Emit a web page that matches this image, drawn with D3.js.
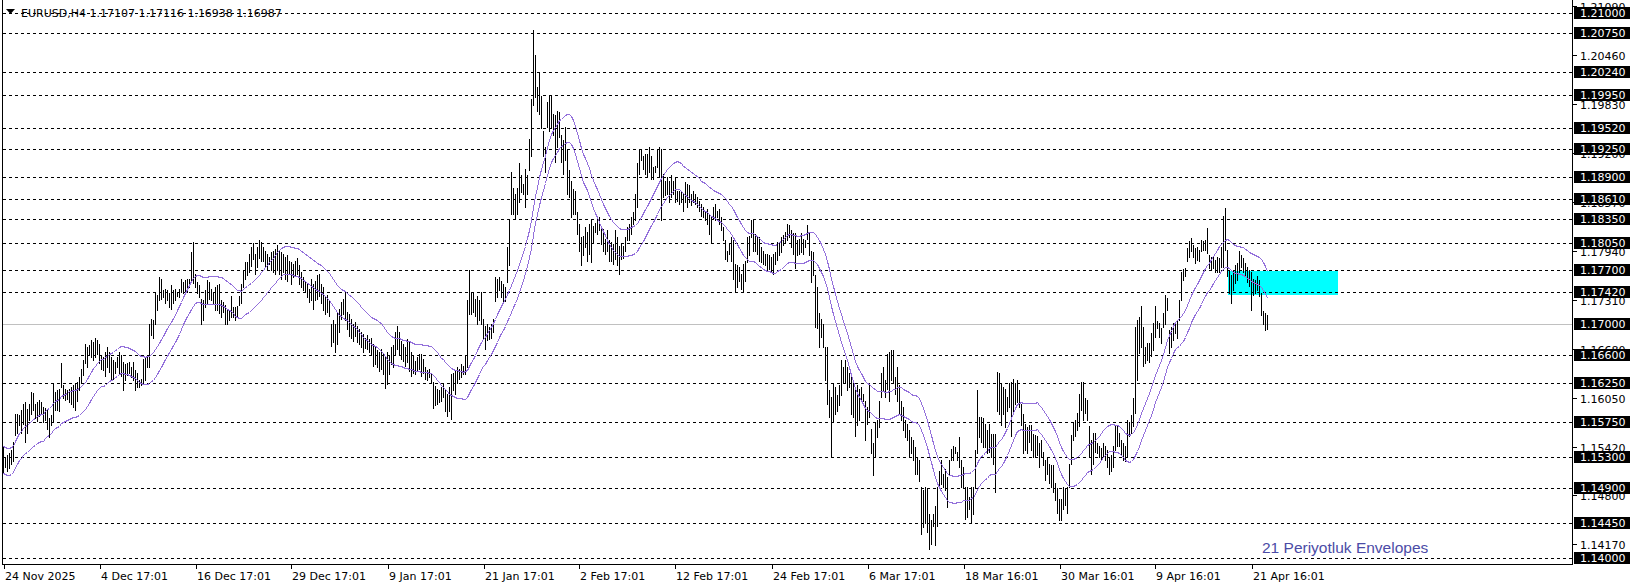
<!DOCTYPE html>
<html><head><meta charset="utf-8">
<script src="https://cdn.jsdelivr.net/npm/d3@7"></script>
<style>
html,body{margin:0;padding:0;background:#fff;overflow:hidden;}
svg{display:block;}
</style></head><body>
<svg id="chart" width="1636" height="587"></svg>
<script>
// ---------------- DATA ----------------
const symbolTitle = "EURUSD,H4";
const lastOHLC = ["1.17107", "1.17116", "1.16938", "1.16987"];

const barHigh = [
1.1542,1.1530,1.1532,1.1534,1.1538,1.1549,1.1585,1.1585,1.1583,1.1590,
1.1598,1.1600,1.1591,1.1598,1.1613,1.1612,1.1598,1.1600,1.1603,1.1600,
1.1594,1.1592,1.1590,1.1580,1.1584,1.1624,1.1613,1.1615,1.1617,1.1650,
1.1622,1.1617,1.1615,1.1617,1.1620,1.1622,1.1624,1.1626,1.1632,1.1643,
1.1654,1.1675,1.1671,1.1673,1.1680,1.1677,1.1682,1.1680,1.1675,1.1660,
1.1658,1.1664,1.1671,1.1664,1.1658,1.1654,1.1652,1.1658,1.1664,1.1660,
1.1652,1.1649,1.1650,1.1652,1.1645,1.1652,1.1641,1.1637,1.1628,1.1630,
1.1656,1.1658,1.1660,1.1700,1.1707,1.1705,1.1740,1.1738,1.1761,1.1759,
1.1744,1.1746,1.1744,1.1740,1.1750,1.1744,1.1746,1.1742,1.1746,1.1759,
1.1755,1.1757,1.1759,1.1759,1.1793,1.1806,1.1765,1.1755,1.1750,1.1733,
1.1731,1.1744,1.1757,1.1755,1.1746,1.1742,1.1748,1.1750,1.1752,1.1731,
1.1729,1.1725,1.1720,1.1719,1.1737,1.1722,1.1722,1.1723,1.1737,1.1752,
1.1770,1.1780,1.1780,1.1791,1.1800,1.1805,
1.1791,1.1799,1.1808,1.1806,1.1799,1.1795,1.1791,1.1787,1.1793,1.1795,
1.1797,1.1802,1.1795,1.1793,1.1791,1.1787,1.1789,1.1782,1.1780,1.1778,
1.1782,1.1785,1.1776,1.1768,1.1761,1.1756,1.1752,1.1746,1.1759,1.1752,
1.1756,1.1763,1.1765,1.1752,1.1748,1.1735,1.1738,1.1731,1.1701,1.1705,
1.1700,1.1716,1.1720,1.1729,1.1733,1.1741,1.1716,1.1713,1.1707,1.1701,
1.1703,1.1698,1.1694,1.1690,1.1688,1.1683,1.1686,1.1681,1.1683,1.1675,
1.1671,1.1667,1.1664,1.1668,1.1662,1.1658,1.1664,1.1660,1.1671,1.1673,
1.1690,1.1698,1.1690,1.1679,1.1675,1.1671,1.1681,1.1677,1.1664,1.1660,
1.1653,1.1658,1.1662,1.1662,1.1655,1.1645,1.1641,1.1643,1.1638,1.1626,
1.1621,1.1617,1.1615,1.1619,1.1623,1.1615,1.1610,1.1619,1.1636,1.1638,
1.1640,1.1645,1.1643,1.1649,1.1647,1.1660,1.1731,1.1770,1.1741,1.1741,
1.1733,1.1737,1.1731,1.1741,1.1707,1.1698,1.1700,1.1696,1.1700,1.1707,
1.1761,1.1758,1.1761,1.1756,1.1752,1.1748,1.1799,1.1834,1.1896,1.1876,
1.1868,1.1876,1.1907,1.1892,1.1881,1.1900,1.1892,1.1939,1.1990,1.2078,
1.2046,1.2005,1.2025,1.1994,1.1949,1.1928,1.1986,1.1994,1.1994,1.1971,
1.1969,1.1975,1.1973,1.1943,1.1937,1.1954,1.1924,1.1898,1.1885,1.1874,
1.1872,1.1844,1.1829,1.1812,1.1814,1.1825,1.1819,1.1829,1.1836,1.1827,
1.1831,1.1836,1.1838,1.1825,1.1823,1.1810,1.1821,1.1808,1.1806,1.1804,
1.1821,1.1812,1.1801,1.1804,1.1801,1.1812,1.1825,1.1829,1.1838,1.1844,
1.1868,1.1907,1.1926,1.1926,1.1917,1.1919,1.1919,1.1928,1.1917,1.1902,
1.1904,1.1924,1.1928,1.1926,1.1894,1.1885,1.1889,1.1885,1.1892,1.1885,
1.1889,1.1872,1.1872,1.1870,1.1868,1.1883,1.1881,1.1879,1.1868,1.1872,
1.1868,1.1864,1.1859,1.1855,1.1851,1.1846,1.1849,1.1842,1.1838,1.1851,
1.1855,1.1846,1.1849,1.1838,1.1825,1.1808,1.1795,1.1804,1.1812,1.1808,
1.1778,1.1776,1.1774,1.1765,1.1778,1.1782,1.1812,1.1814,1.1834,1.1834,
1.1816,1.1812,1.1812,1.1799,1.1795,1.1791,1.1791,1.1789,1.1787,1.1791,
1.1793,1.1806,1.1804,1.1813,1.1815,1.1819,1.1829,1.1828,1.1821,1.1817,
1.1817,1.1808,1.1810,1.1817,1.1810,1.1808,1.1828,1.1817,1.1795,1.1793,
1.1763,1.1748,1.1714,1.1707,1.1701,1.1671,1.1671,1.1615,1.1607,1.1624,
1.1620,1.1609,1.1622,1.1654,1.1645,1.1654,1.1645,1.1637,1.1635,1.1624,
1.1620,1.1622,1.1617,1.1620,1.1611,1.1602,1.1594,1.1622,1.1566,1.1547,
1.1574,1.1577,1.1602,1.1637,1.1645,1.1628,1.1662,1.1664,1.1667,1.1667,
1.1632,1.1645,1.1622,1.1602,1.1594,1.1577,1.1572,1.1564,1.1555,1.1551,
1.1542,1.1529,1.1525,1.1491,1.1487,1.1491,1.1489,1.1456,1.1448,1.1456,
1.1467,1.1491,1.1512,1.1525,1.1508,1.1514,1.1504,1.1525,1.1540,1.1544,
1.1542,1.1536,1.1555,1.1525,1.1517,1.1491,1.1491,1.1478,1.1491,1.1491,
1.1538,1.1615,1.1581,1.1581,1.1579,1.1572,1.1564,1.1572,1.1559,1.1559,
1.1559,1.1639,1.1637,1.1624,1.1620,1.1617,1.1607,1.1624,1.1626,1.1630,
1.1624,1.1628,1.1615,1.1598,1.1585,1.1572,1.1568,1.1570,1.1570,1.1559,
1.1558,1.1556,1.1547,1.1551,1.1536,1.1526,1.1528,1.1521,1.1519,1.1519,
1.1496,1.1489,1.1476,1.1476,1.1491,1.1489,1.1491,1.1521,1.1558,1.1573,
1.1577,1.1586,1.1611,1.1626,1.1626,1.1605,1.1603,1.1569,1.1551,1.1560,
1.1560,1.1547,1.1543,1.1541,1.1547,1.1543,1.1539,1.1530,1.1532,1.1543,
1.1569,1.1571,1.1560,1.1551,1.1547,1.1543,1.1577,1.1575,1.1584,1.1605,
1.1697,1.1706,1.1710,1.1723,1.1697,1.1671,1.1676,1.1676,1.1689,1.1702,
1.1723,1.1704,1.1702,1.1695,1.1714,1.1738,1.1734,1.1693,1.1697,1.1702,
1.1702,1.1704,1.1731,1.1768,1.1771,1.1772,1.1798,1.1807,1.1811,1.1802,
1.1798,1.1800,1.1796,1.1809,1.1807,1.1809,1.1824,1.1789,1.1787,1.1787,
1.1783,1.1787,1.1785,1.1800,1.1839,1.1850,1.1796,1.1770,1.1764,1.1770,
1.1777,1.1779,1.1794,1.1789,1.1785,1.1779,1.1774,1.1770,1.1768,1.1759,
1.1757,1.1762,1.1757,1.1740,1.1717,1.1714,1.1712
];

const barLow = [
1.1510,1.1517,1.1512,1.1515,1.1520,1.1524,1.1558,1.1560,1.1570,1.1560,
1.1572,1.1549,1.1560,1.1577,1.1585,1.1590,1.1580,1.1576,1.1582,1.1585,
1.1574,1.1577,1.1566,1.1555,1.1570,1.1575,1.1590,1.1590,1.1589,1.1620,
1.1605,1.1603,1.1604,1.1600,1.1598,1.1594,1.1590,1.1602,1.1615,1.1624,
1.1635,1.1650,1.1645,1.1662,1.1658,1.1654,1.1658,1.1662,1.1650,1.1643,
1.1641,1.1633,1.1645,1.1639,1.1628,1.1630,1.1637,1.1645,1.1637,1.1633,
1.1615,1.1628,1.1635,1.1637,1.1632,1.1628,1.1615,1.1620,1.1620,1.1622,
1.1624,1.1628,1.1645,1.1645,1.1686,1.1682,1.1701,1.1718,1.1731,1.1733,
1.1735,1.1727,1.1731,1.1722,1.1720,1.1727,1.1731,1.1737,1.1735,1.1742,
1.1740,1.1742,1.1742,1.1748,1.1755,1.1753,1.1748,1.1740,1.1735,1.1701,
1.1705,1.1722,1.1727,1.1733,1.1731,1.1727,1.1718,1.1718,1.1714,1.1710,
1.1716,1.1701,1.1701,1.1705,1.1710,1.1709,1.1705,1.1710,1.1725,1.1727,
1.1748,1.1759,1.1763,1.1768,1.1775,1.1784,
1.1765,1.1774,1.1785,1.1782,1.1782,1.1774,1.1770,1.1778,1.1770,1.1768,
1.1765,1.1770,1.1765,1.1758,1.1768,1.1758,1.1756,1.1765,1.1752,1.1761,
1.1763,1.1765,1.1752,1.1748,1.1744,1.1742,1.1735,1.1729,1.1731,1.1720,
1.1731,1.1733,1.1737,1.1727,1.1718,1.1713,1.1716,1.1711,1.1672,1.1677,
1.1664,1.1675,1.1690,1.1707,1.1713,1.1705,1.1694,1.1685,1.1683,1.1679,
1.1685,1.1677,1.1675,1.1671,1.1664,1.1670,1.1668,1.1664,1.1660,1.1647,
1.1649,1.1645,1.1640,1.1643,1.1636,1.1618,1.1623,1.1636,1.1649,1.1645,
1.1660,1.1668,1.1660,1.1655,1.1653,1.1647,1.1651,1.1640,1.1634,1.1638,
1.1636,1.1640,1.1643,1.1634,1.1638,1.1630,1.1628,1.1632,1.1626,1.1593,
1.1596,1.1598,1.1600,1.1602,1.1606,1.1589,1.1582,1.1589,1.1578,1.1615,
1.1611,1.1625,1.1630,1.1632,1.1636,1.1636,1.1645,1.1713,1.1713,1.1716,
1.1711,1.1700,1.1705,1.1700,1.1683,1.1668,1.1680,1.1681,1.1683,1.1690,
1.1730,1.1735,1.1744,1.1735,1.1727,1.1730,1.1754,1.1776,1.1842,1.1842,
1.1836,1.1842,1.1857,1.1870,1.1868,1.1851,1.1868,1.1898,1.1917,1.1982,
1.1992,1.1975,1.1971,1.1952,1.1917,1.1896,1.1954,1.1949,1.1952,1.1943,
1.1909,1.1928,1.1941,1.1909,1.1894,1.1911,1.1868,1.1864,1.1838,1.1842,
1.1842,1.1816,1.1795,1.1776,1.1789,1.1799,1.1782,1.1791,1.1780,1.1806,
1.1819,1.1816,1.1821,1.1804,1.1795,1.1791,1.1795,1.1782,1.1782,1.1778,
1.1784,1.1776,1.1765,1.1784,1.1786,1.1795,1.1808,1.1808,1.1816,1.1829,
1.1834,1.1851,1.1894,1.1911,1.1900,1.1894,1.1889,1.1896,1.1887,1.1887,
1.1896,1.1902,1.1889,1.1834,1.1864,1.1866,1.1868,1.1857,1.1864,1.1868,
1.1857,1.1859,1.1855,1.1857,1.1846,1.1857,1.1851,1.1857,1.1853,1.1857,
1.1855,1.1851,1.1846,1.1840,1.1838,1.1834,1.1829,1.1816,1.1806,1.1836,
1.1834,1.1838,1.1829,1.1821,1.1808,1.1784,1.1782,1.1791,1.1782,1.1759,
1.1741,1.1748,1.1756,1.1746,1.1741,1.1756,1.1780,1.1789,1.1812,1.1795,
1.1795,1.1791,1.1782,1.1780,1.1778,1.1776,1.1771,1.1771,1.1769,1.1765,
1.1778,1.1783,1.1789,1.1793,1.1802,1.1806,1.1808,1.1813,1.1800,1.1791,
1.1772,1.1789,1.1791,1.1793,1.1791,1.1800,1.1810,1.1789,1.1755,1.1763,
1.1697,1.1695,1.1671,1.1684,1.1671,1.1628,1.1598,1.1581,1.1529,1.1574,
1.1585,1.1589,1.1596,1.1609,1.1624,1.1626,1.1615,1.1620,1.1585,1.1581,
1.1557,1.1570,1.1577,1.1604,1.1602,1.1551,1.1572,1.1581,1.1534,1.1506,
1.1529,1.1555,1.1568,1.1607,1.1615,1.1607,1.1617,1.1602,1.1628,1.1624,
1.1611,1.1602,1.1585,1.1577,1.1564,1.1555,1.1551,1.1529,1.1534,1.1525,
1.1508,1.1508,1.1499,1.1431,1.1439,1.1444,1.1433,1.1411,1.1418,1.1441,
1.1416,1.1441,1.1491,1.1495,1.1491,1.1487,1.1465,1.1508,1.1525,1.1525,
1.1534,1.1525,1.1517,1.1491,1.1491,1.1450,1.1452,1.1463,1.1444,1.1456,
1.1491,1.1534,1.1555,1.1549,1.1542,1.1542,1.1534,1.1536,1.1529,1.1521,
1.1484,1.1589,1.1585,1.1570,1.1585,1.1568,1.1589,1.1594,1.1557,1.1585,
1.1598,1.1600,1.1594,1.1570,1.1534,1.1538,1.1534,1.1549,1.1538,1.1529,
1.1530,1.1532,1.1517,1.1530,1.1519,1.1500,1.1508,1.1496,1.1491,1.1485,
1.1474,1.1457,1.1449,1.1448,1.1463,1.1468,1.1457,1.1491,1.1521,1.1551,
1.1556,1.1564,1.1569,1.1590,1.1577,1.1586,1.1577,1.1530,1.1508,1.1521,
1.1536,1.1534,1.1530,1.1526,1.1530,1.1526,1.1517,1.1508,1.1511,1.1517,
1.1539,1.1543,1.1543,1.1532,1.1526,1.1524,1.1530,1.1556,1.1560,1.1569,
1.1586,1.1628,1.1663,1.1671,1.1646,1.1650,1.1654,1.1652,1.1659,1.1667,
1.1684,1.1695,1.1684,1.1676,1.1697,1.1701,1.1719,1.1663,1.1671,1.1680,
1.1689,1.1682,1.1706,1.1731,1.1757,1.1762,1.1781,1.1787,1.1794,1.1787,
1.1779,1.1783,1.1781,1.1794,1.1796,1.1796,1.1792,1.1772,1.1770,1.1772,
1.1768,1.1768,1.1768,1.1774,1.1774,1.1796,1.1762,1.1740,1.1727,1.1744,
1.1753,1.1757,1.1768,1.1774,1.1768,1.1762,1.1755,1.1749,1.1719,1.1738,
1.1740,1.1744,1.1736,1.1712,1.1701,1.1693,1.1694
];

const dateLabels = ["24 Nov 2025","4 Dec 17:01","16 Dec 17:01","29 Dec 17:01","9 Jan 17:01",
  "21 Jan 17:01","2 Feb 17:01","12 Feb 17:01","24 Feb 17:01","6 Mar 17:01",
  "18 Mar 16:01","30 Mar 16:01","9 Apr 16:01","21 Apr 16:01"];
const barsPerLabel = 48;

// horizontal level lines (with black price tags)
const levelPrices = [1.21000,1.20750,1.20240,1.19950,1.19520,1.19250,1.18900,1.18610,
  1.18350,1.18050,1.17700,1.17420,1.16600,1.16250,1.15750,1.15300,1.14900,1.14450,1.14000];
const solidLevel = 1.17000;

// regular price-axis ticks
const axisTicks = [1.21090,1.20460,1.19830,1.19200,1.18570,1.17940,1.17310,
  1.16680,1.16050,1.15420,1.14800,1.14170];

const envelopePeriod = 21;
const envelopeDeviationPct = 0.15;
const indicatorLabel = "21 Periyotluk Envelopes";

// cyan zone: bar index range and price range
const zoneBars = [612, 667];
const zonePrices = [1.17690, 1.17380];

// visible price window
const priceWindow = [1.13919, 1.21171];

// ---------------- DRAW ----------------
const svg = d3.select("#chart");
const plotL = 2, plotR = 1572, plotT = 0, plotB = 564;
const nBars = barHigh.length;

const x = d3.scaleLinear().domain([0, nBars - 1]).range([3.5, 3.5 + 2 * (nBars - 1)]);
const y = d3.scaleLinear().domain(priceWindow).range([plotB, plotT]);
const py = p => Math.round(y(p)) + 0.5;

svg.append("rect").attr("width", 1636).attr("height", 587).attr("fill", "#fff");

svg.append("defs").append("clipPath").attr("id", "plotclip")
  .append("rect").attr("x", plotL + 1).attr("y", plotT).attr("width", plotR - plotL - 1).attr("height", plotB - plotT);

const plot = svg.append("g").attr("clip-path", "url(#plotclip)");

// cyan zone (background object)
plot.append("rect")
  .attr("x", Math.round(x(zoneBars[0])))
  .attr("y", Math.round(y(zonePrices[0])))
  .attr("width", Math.round(x(zoneBars[1]) - x(zoneBars[0])))
  .attr("height", Math.round(y(zonePrices[1]) - y(zonePrices[0])))
  .attr("fill", "#00ffff");

// level lines
plot.selectAll("line.level").data(levelPrices).join("line")
  .attr("class", "level")
  .attr("x1", plotL + 1).attr("x2", plotR)
  .attr("y1", d => py(d)).attr("y2", d => py(d))
  .attr("stroke", "#000").attr("stroke-width", 1)
  .attr("stroke-dasharray", "3,3")
  .attr("shape-rendering", "crispEdges");

plot.append("line")
  .attr("x1", plotL).attr("x2", plotR)
  .attr("y1", py(solidLevel)).attr("y2", py(solidLevel))
  .attr("stroke", "#c0c0c0").attr("stroke-width", 1)
  .attr("shape-rendering", "crispEdges");

// bars (high-low)
const bars = d3.range(nBars).map(i => ({i, h: barHigh[i], l: barLow[i]}));
plot.selectAll("line.bar").data(bars).join("line")
  .attr("class", "bar")
  .attr("x1", d => x(d.i)).attr("x2", d => x(d.i))
  .attr("y1", d => Math.round(y(d.h))).attr("y2", d => Math.round(y(d.l)) + 1)
  .attr("stroke", "#000").attr("stroke-width", 1)
  .attr("shape-rendering", "crispEdges");

// envelopes: SMA of median price
const median = bars.map(d => (d.h + d.l) / 2);
const ma = median.map((_, i) => {
  const s = Math.max(0, i - envelopePeriod + 1);
  return d3.mean(median.slice(s, i + 1));
});
const k = envelopeDeviationPct / 100;
const upper = ma.map((m, i) => ({i, v: m * (1 + k)}));
const lower = ma.map((m, i) => ({i, v: m * (1 - k)}));
const envLine = d3.line().x(d => x(d.i)).y(d => Math.round(y(d.v)) + 0.5);
[upper, lower].forEach(series => {
  plot.append("path").datum(series)
    .attr("d", envLine)
    .attr("fill", "none")
    .attr("stroke", "#9370db")
    .attr("stroke-width", 1)
    .attr("shape-rendering", "crispEdges");
});

// indicator label
svg.append("text")
  .attr("x", 1262).attr("y", 553)
  .attr("font-family", "Liberation Sans, Arial, sans-serif")
  .attr("font-size", 15.5)
  .attr("fill", "#4b4ba6")
  .text(indicatorLabel);

// title
svg.append("path").attr("d", "M6,9 L15,9 L10.5,14 Z").attr("fill", "#000");
svg.append("text")
  .attr("x", 21).attr("y", 17)
  .attr("font-family", "DejaVu Sans, sans-serif")
  .attr("font-size", 11)
  .attr("fill", "#000")
  .text(symbolTitle + " " + lastOHLC.join(" "));

// frame
svg.append("path")
  .attr("d", `M${plotL + 0.5},${plotT} V${plotB + 0.5} H${plotR + 0.5} V${plotT}`)
  .attr("fill", "none").attr("stroke", "#000").attr("stroke-width", 1)
  .attr("shape-rendering", "crispEdges");

// price axis ticks + labels
const fmt = d3.format(".5f");
const axisG = svg.append("g");
axisG.selectAll("line").data(axisTicks).join("line")
  .attr("x1", plotR + 1).attr("x2", plotR + 5)
  .attr("y1", d => py(d)).attr("y2", d => py(d))
  .attr("stroke", "#000").attr("shape-rendering", "crispEdges");
axisG.selectAll("text").data(axisTicks).join("text")
  .attr("x", 1580).attr("y", d => py(d) + 4)
  .attr("font-family", "DejaVu Sans, sans-serif").attr("font-size", 11)
  .attr("fill", "#000")
  .text(d => fmt(d));

// level tags
const tags = svg.append("g");
const tagData = levelPrices.concat([solidLevel]);
tags.selectAll("rect").data(tagData).join("rect")
  .attr("x", 1574).attr("width", 56)
  .attr("y", d => Math.round(y(d)) - 6).attr("height", 12)
  .attr("fill", "#000");
tags.selectAll("text").data(tagData).join("text")
  .attr("x", 1580).attr("y", d => Math.round(y(d)) + 4)
  .attr("font-family", "DejaVu Sans, sans-serif").attr("font-size", 11)
  .attr("fill", "#fff")
  .text(d => fmt(d));

// time axis
const tickIdx = dateLabels.map((_, j) => j * barsPerLabel);
const timeG = svg.append("g");
timeG.selectAll("line").data(tickIdx).join("line")
  .attr("x1", d => Math.round(x(d)) + 0.5).attr("x2", d => Math.round(x(d)) + 0.5)
  .attr("y1", plotB + 1).attr("y2", plotB + 5)
  .attr("stroke", "#000").attr("shape-rendering", "crispEdges");
timeG.selectAll("text").data(tickIdx).join("text")
  .attr("x", d => Math.round(x(d)) + 1).attr("y", 580)
  .attr("font-family", "DejaVu Sans, sans-serif").attr("font-size", 11)
  .attr("fill", "#000")
  .text((d, j) => dateLabels[j]);
</script>
</body></html>
